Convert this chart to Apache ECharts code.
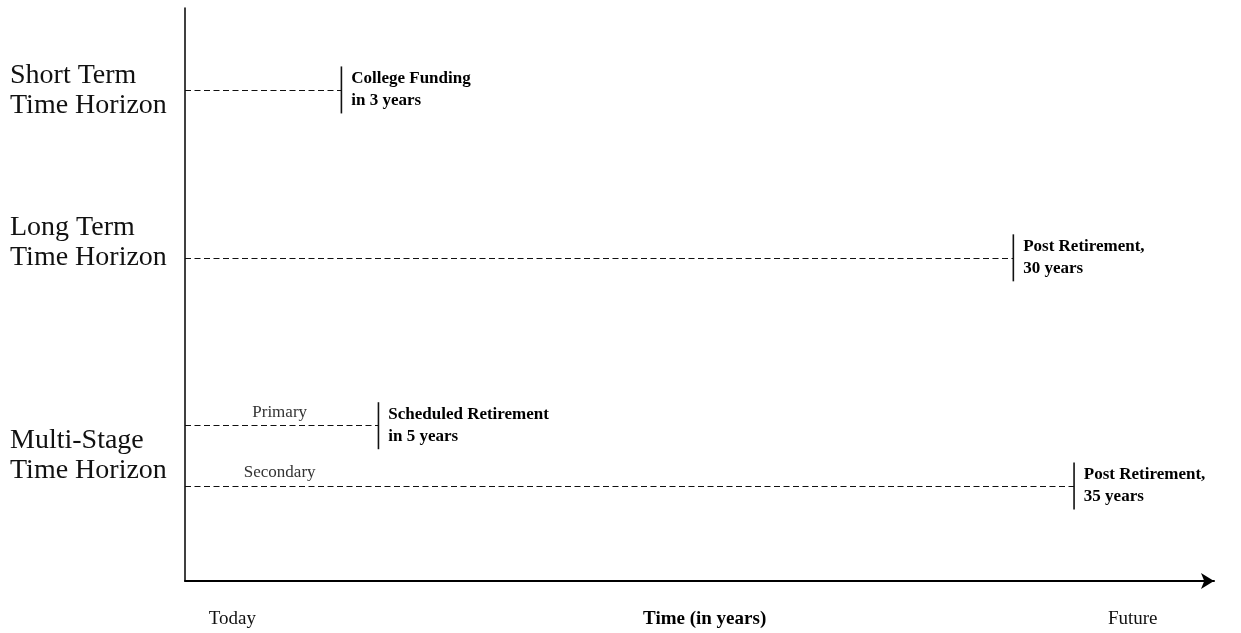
<!DOCTYPE html>
<html>
<head>
<meta charset="utf-8">
<title>Time Horizons</title>
<script src="https://cdn.jsdelivr.net/npm/echarts@6/dist/echarts.min.js"></script>
<style>
  html, body { margin: 0; padding: 0; background: #fff; }
  #chart { width: 1241px; height: 633px; }
</style>
</head>
<body>
<div id="chart"></div>
<script>
// horizon rows (layout units 0-100, not to scale in years)
const rowLevels = [85.7, 56.4, 27.1, 16.6];
const endPositions = [15.2, 80.5, 18.8, 86.4];
const endLabels = [
    'College Funding\nin 3 years',
    'Post Retirement,\n30 years',
    'Scheduled Retirement\nin 5 years',
    'Post Retirement,\n35 years'
];
const stageLabels = ['', '', 'Primary', 'Secondary'];
const stageLabelPos = 9.2;

// left-hand group names
const groupLabels = ['Short Term\nTime Horizon', 'Long Term\nTime Horizon', 'Multi-Stage\nTime Horizon'];
const groupLevels = [85.5, 59.0, 21.8];

// bottom labels
const timeTicks = ['Today', 'Time (in years)', 'Future'];
const timeTickPos = [4.6, 50.5, 92.1];

const FONT = '"Liberation Serif", "Times New Roman", serif';
const INK = '#111';

const chart = echarts.init(document.getElementById('chart'));

const pick = (vals, labels) => v => {
    const i = vals.findIndex(p => Math.abs(p - v) < 0.01);
    return i < 0 ? '' : labels[i];
};

const option = {
    animation: false,
    backgroundColor: '#fff',
    grid: { left: 185, right: 27, top: 8, bottom: 52 },
    xAxis: {
        type: 'value',
        min: 0,
        max: 100,
        splitLine: { show: false },
        axisTick: { show: false },
        axisLine: {
            show: true,
            symbol: ['none', 'arrow'],
            symbolSize: [12, 13],
            lineStyle: { color: '#000', width: 2 }
        },
        axisLabel: {
            customValues: timeTickPos,
            margin: 28,
            fontFamily: FONT,
            fontSize: 19,
            lineHeight: 20,
            color: INK,
            formatter: v => {
                const t = pick(timeTickPos, timeTicks)(v);
                return t === 'Time (in years)' ? '{b|' + t + '}' : t;
            },
            rich: {
                b: { fontFamily: FONT, fontSize: 19, fontWeight: 'bold', color: '#000' }
            }
        }
    },
    yAxis: {
        type: 'value',
        min: 0,
        max: 100,
        splitLine: { show: false },
        axisTick: { show: false },
        axisLine: { show: true, onZero: false, lineStyle: { color: '#000', width: 1.5 } },
        axisLabel: {
            customValues: groupLevels,
            align: 'left',
            margin: 175,
            fontFamily: FONT,
            fontSize: 28,
            lineHeight: 30,
            color: INK,
            formatter: pick(groupLevels, groupLabels)
        }
    },
    series: [
        {
            type: 'lines',
            coordinateSystem: 'cartesian2d',
            silent: true,
            lineStyle: { color: '#111', width: 1.2, type: [6, 3.5], opacity: 1 },
            data: rowLevels.map((y, i) => ({ coords: [[0, y], [endPositions[i], y]] }))
        },
        {
            type: 'scatter',
            silent: true,
            symbol: 'rect',
            symbolSize: [1.6, 47],
            itemStyle: { color: '#111', opacity: 1 },
            label: {
                show: true,
                position: 'right',
                distance: 9,
                fontFamily: FONT,
                fontSize: 17,
                fontWeight: 'bold',
                lineHeight: 22,
                color: '#000',
                formatter: p => endLabels[p.dataIndex]
            },
            data: rowLevels.map((y, i) => [endPositions[i], y])
        },
        {
            type: 'scatter',
            silent: true,
            symbolSize: 0,
            itemStyle: { opacity: 1 },
            label: {
                show: true,
                position: 'top',
                distance: 5,
                fontFamily: FONT,
                fontSize: 17,
                color: '#333',
                formatter: p => stageLabels[p.dataIndex]
            },
            data: rowLevels.map(y => [stageLabelPos, y])
        }
    ]
};

chart.setOption(option);
</script>
</body>
</html>
